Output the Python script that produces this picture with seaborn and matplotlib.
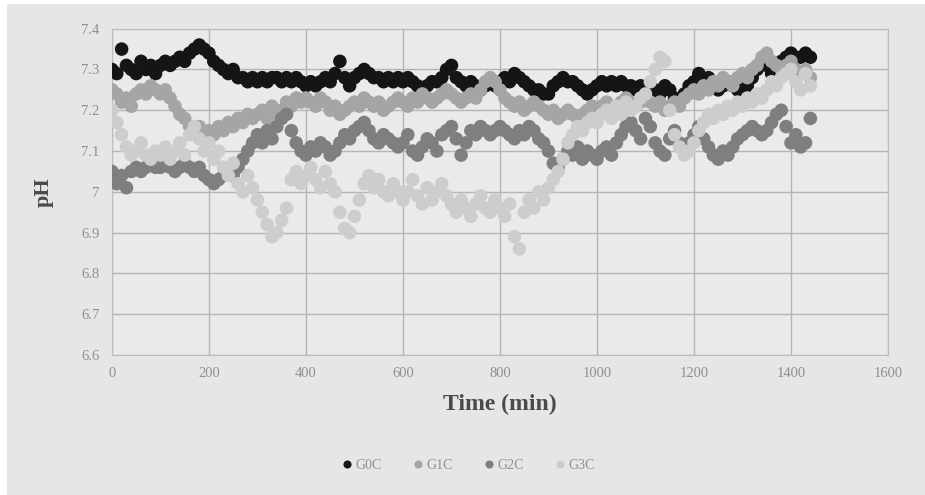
import numpy as np
import pandas as pd
import matplotlib
matplotlib.use('Agg')
import matplotlib.pyplot as plt
import seaborn as sns
from matplotlib.patches import Rectangle
from matplotlib.ticker import FuncFormatter

# tiempo de muestreo (min), cada 10 min
time_min = list(range(0, 1450, 10))

g0c = [7.30, 7.29, 7.35, 7.31, 7.30, 7.29, 7.32, 7.30, 7.31, 7.29,
       7.31, 7.32, 7.31, 7.32, 7.33, 7.32, 7.34, 7.35, 7.36, 7.35,
       7.34, 7.32, 7.31, 7.30, 7.29, 7.30, 7.28, 7.28, 7.27, 7.28,
       7.27, 7.28, 7.27, 7.28, 7.28, 7.27, 7.28, 7.27, 7.28, 7.27,
       7.26, 7.27, 7.26, 7.27, 7.28, 7.27, 7.29, 7.32, 7.28, 7.26,
       7.28, 7.29, 7.30, 7.29, 7.28, 7.28, 7.27, 7.28, 7.27, 7.28,
       7.27, 7.28, 7.27, 7.26, 7.25, 7.26, 7.27, 7.27, 7.28, 7.30,
       7.31, 7.28, 7.27, 7.26, 7.27, 7.26, 7.25, 7.26, 7.27, 7.26,
       7.27, 7.28, 7.27, 7.29, 7.28, 7.27, 7.26, 7.25, 7.25, 7.24,
       7.24, 7.26, 7.27, 7.28, 7.27, 7.27, 7.26, 7.25, 7.24, 7.25,
       7.26, 7.27, 7.26, 7.27, 7.26, 7.27, 7.26, 7.26, 7.25, 7.26,
       7.25, 7.26, 7.25, 7.24, 7.26, 7.25, 7.23, 7.22, 7.24, 7.26,
       7.27, 7.29, 7.27, 7.28, 7.26, 7.25, 7.26, 7.27, 7.26, 7.25,
       7.24, 7.26, 7.28, 7.30, 7.32, 7.31, 7.29, 7.30, 7.32, 7.33,
       7.34, 7.33, 7.33, 7.34, 7.33]

g1c = [7.25, 7.24, 7.22, 7.23, 7.21, 7.24, 7.25, 7.24, 7.26, 7.25,
       7.24, 7.25, 7.23, 7.21, 7.19, 7.18, 7.16, 7.15, 7.16, 7.14,
       7.15, 7.14, 7.16, 7.15, 7.17, 7.16, 7.18, 7.17, 7.19, 7.18,
       7.19, 7.20, 7.18, 7.21, 7.19, 7.20, 7.22, 7.21, 7.23, 7.22,
       7.23, 7.22, 7.21, 7.23, 7.22, 7.20, 7.21, 7.19, 7.20, 7.21,
       7.22, 7.21, 7.23, 7.22, 7.21, 7.22, 7.20, 7.21, 7.22, 7.23,
       7.22, 7.21, 7.23, 7.22, 7.24, 7.23, 7.22, 7.23, 7.24, 7.25,
       7.24, 7.23, 7.22, 7.23, 7.24, 7.23, 7.25, 7.27, 7.28, 7.27,
       7.25, 7.23, 7.22, 7.21, 7.22, 7.20, 7.21, 7.22, 7.21, 7.20,
       7.19, 7.20, 7.18, 7.19, 7.20, 7.19, 7.18, 7.19, 7.20, 7.21,
       7.20, 7.21, 7.22, 7.21, 7.20, 7.22, 7.23, 7.22, 7.21, 7.22,
       7.23, 7.22, 7.21, 7.22, 7.20, 7.21, 7.22, 7.21, 7.23, 7.24,
       7.25, 7.24, 7.26, 7.25, 7.27, 7.26, 7.28, 7.27, 7.26, 7.28,
       7.29, 7.28, 7.30, 7.31, 7.33, 7.34, 7.32, 7.31, 7.30, 7.31,
       7.32, 7.30, 7.29, 7.30, 7.28]

g2c = [7.05, 7.02, 7.04, 7.01, 7.05, 7.06, 7.05, 7.06, 7.07, 7.06,
       7.06, 7.07, 7.06, 7.05, 7.06, 7.07, 7.06, 7.05, 7.06, 7.04,
       7.03, 7.02, 7.03, 7.04, 7.05, 7.04, 7.06, 7.08, 7.10, 7.12,
       7.14, 7.12, 7.15, 7.13, 7.16, 7.18, 7.19, 7.15, 7.12, 7.10,
       7.09, 7.11, 7.10, 7.12, 7.11, 7.09, 7.10, 7.12, 7.14, 7.13,
       7.15, 7.16, 7.17, 7.15, 7.13, 7.12, 7.14, 7.13, 7.12, 7.11,
       7.12, 7.14, 7.10, 7.09, 7.11, 7.13, 7.12, 7.10, 7.14, 7.15,
       7.16, 7.13, 7.09, 7.12, 7.15, 7.14, 7.16, 7.15, 7.14, 7.15,
       7.16, 7.15, 7.14, 7.13, 7.15, 7.14, 7.16, 7.15, 7.13, 7.12,
       7.10, 7.07, 7.06, 7.08, 7.10, 7.09, 7.11, 7.08, 7.10, 7.09,
       7.08, 7.10, 7.11, 7.09, 7.12, 7.14, 7.16, 7.17, 7.15, 7.13,
       7.18, 7.16, 7.12, 7.10, 7.09, 7.13, 7.15, 7.12, 7.10, 7.12,
       7.14, 7.16, 7.13, 7.11, 7.09, 7.08, 7.10, 7.09, 7.11, 7.13,
       7.14, 7.15, 7.16, 7.15, 7.14, 7.15, 7.17, 7.19, 7.20, 7.16,
       7.12, 7.14, 7.11, 7.12, 7.18]

g3c = [7.20, 7.17, 7.14, 7.11, 7.09, 7.10, 7.12, 7.09, 7.08, 7.10,
       7.09, 7.11, 7.08, 7.10, 7.12, 7.09, 7.14, 7.16, 7.13, 7.10,
       7.12, 7.08, 7.10, 7.06, 7.04, 7.07, 7.02, 7.00, 7.04, 7.01,
       6.98, 6.95, 6.92, 6.89, 6.90, 6.93, 6.96, 7.03, 7.05, 7.02,
       7.04, 7.06, 7.03, 7.01, 7.05, 7.02, 7.00, 6.95, 6.91, 6.90,
       6.94, 6.98, 7.02, 7.04, 7.01, 7.03, 7.00, 6.99, 7.02, 7.00,
       6.98, 7.00, 7.03, 6.99, 6.97, 7.01, 6.98, 7.00, 7.02, 6.99,
       6.97, 6.95, 6.98, 6.96, 6.94, 6.97, 6.99, 6.96, 6.95, 6.98,
       6.96, 6.94, 6.97, 6.89, 6.86, 6.95, 6.98, 6.96, 7.00, 6.98,
       7.01, 7.03, 7.05, 7.08, 7.12, 7.14, 7.16, 7.15, 7.17, 7.18,
       7.17, 7.19, 7.20, 7.18, 7.21, 7.19, 7.22, 7.20, 7.21, 7.23,
       7.24, 7.27, 7.30, 7.33, 7.32, 7.20, 7.14, 7.11, 7.09, 7.10,
       7.12, 7.15, 7.17, 7.19, 7.18, 7.20, 7.19, 7.21, 7.20, 7.22,
       7.21, 7.23, 7.22, 7.24, 7.23, 7.25, 7.27, 7.26, 7.28, 7.29,
       7.30, 7.27, 7.25, 7.29, 7.26]

series_names = ['G0C', 'G1C', 'G2C', 'G3C']
series_colors = ['#151515', '#a5a5a5', '#7f7f7f', '#cdcdcd']

x_ticks = [0, 200, 400, 600, 800, 1000, 1200, 1400, 1600]
y_ticks = [6.6, 6.7, 6.8, 6.9, 7.0, 7.1, 7.2, 7.3, 7.4]

# Tabla larga para seaborn
df = pd.concat([
    pd.DataFrame({'Time': time_min, 'pH': vals, 'Serie': name})
    for name, vals in zip(series_names, [g0c, g1c, g2c, g3c])
], ignore_index=True)

fig = plt.figure(figsize=(9.25, 4.95), dpi=100, facecolor='white')
fig.add_artist(Rectangle((7 / 925, 0), 1, 1 - 4 / 495, transform=fig.transFigure,
                         facecolor='#e6e6e6', edgecolor='none', zorder=-10))
ax = fig.add_axes([0.121, 0.283, 0.839, 0.659])
ax.set_facecolor('#eaeaea')

sns.scatterplot(data=df, x='Time', y='pH', hue='Serie',
                palette=dict(zip(series_names, series_colors)),
                s=95, linewidth=0, alpha=1, ax=ax, zorder=3)

ax.set_xlim(0, 1600)
ax.set_ylim(6.6, 7.4)
ax.set_xticks(x_ticks)
ax.set_yticks(y_ticks)
ax.yaxis.set_major_formatter(FuncFormatter(lambda v, p: '{:g}'.format(round(v, 1))))
ax.grid(True, color='#b5b5b5', linewidth=1)
ax.set_axisbelow(True)
for sp in ax.spines.values():
    sp.set_color('#bcbcbc')
ax.tick_params(length=0, pad=9, labelsize=10.5, labelcolor='#8f8f8f')
for lbl in ax.get_xticklabels() + ax.get_yticklabels():
    lbl.set_family('Liberation Serif')

ax.set_xlabel('Time (min)', family='Liberation Serif', fontweight='bold',
              fontsize=17, color='#4a4a4a', labelpad=10)
ax.set_ylabel('pH', family='Liberation Serif', fontweight='bold',
              fontsize=16, color='#4a4a4a', labelpad=20)

sns.move_legend(ax, 'center', bbox_to_anchor=(0.457, -0.34), ncol=4,
                frameon=False, title=None, markerscale=0.6,
                handletextpad=0.0, columnspacing=2.0, handlelength=1.2,
                prop={'family': 'Liberation Serif', 'size': 10})
for t in ax.get_legend().get_texts():
    t.set_color('#8f8f8f')

plt.savefig('out.png', dpi=100, facecolor=fig.get_facecolor())
